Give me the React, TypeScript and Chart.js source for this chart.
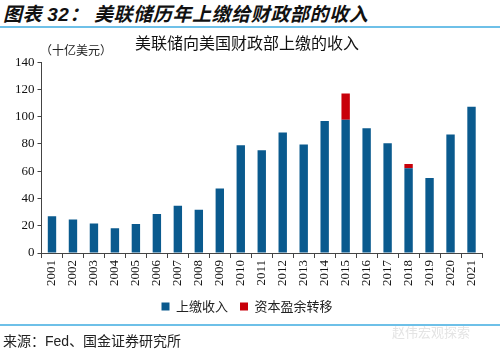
import React, { useEffect, useRef } from "react";
import { Chart, registerables } from "chart.js";

Chart.register(...registerables);

const years = ["2001","2002","2003","2004","2005","2006","2007","2008","2009","2010","2011","2012","2013","2014","2015","2016","2017","2018","2019","2020","2021"];
const remittances = [26.9, 24.5, 21.7, 18.2, 21.2, 28.7, 34.7, 31.7, 47.4, 79.1, 75.4, 88.4, 79.6, 96.9, 97.7, 91.5, 80.6, 62.1, 55.1, 86.9, 107.4];
const surplusTransfer = [null, null, null, null, null, null, null, null, null, null, null, null, null, null, 19.3, null, null, 3.2, null, null, null];
const seriesNames = ["上缴收入", "资本盈余转移"];
const yTicks = { min: 0, max: 140, step: 20 };

const serif = "'Liberation Serif', 'Times New Roman', serif";
const cjk = "'Noto Sans CJK SC', sans-serif";

export default function App() {
  const ref = useRef<HTMLCanvasElement>(null);
  useEffect(() => {
    document.body.style.margin = "0";
    const chart = new Chart(ref.current!, {
      type: "bar",
      data: {
        labels: years,
        datasets: [
          { label: seriesNames[0], data: remittances, backgroundColor: "#0A5A8E", barPercentage: 0.4, categoryPercentage: 1 },
          { label: seriesNames[1], data: surplusTransfer as any, backgroundColor: "#C8000A", barPercentage: 0.4, categoryPercentage: 1 },
        ],
      },
      options: {
        animation: false,
        responsive: false,
        maintainAspectRatio: false,
        layout: { padding: { left: 12, right: 18, top: 0, bottom: 2 } },
        plugins: {
          tooltip: { enabled: false },
          title: {
            display: true,
            text: "美联储向美国财政部上缴的收入",
            color: "#111",
            font: { family: cjk, size: 16, weight: "normal" },
            padding: { top: 2, bottom: 10 },
          },
          legend: {
            position: "bottom",
            labels: {
              boxWidth: 8,
              boxHeight: 8,
              color: "#222",
              font: { family: cjk, size: 13 },
              padding: 12,
            },
          },
        },
        scales: {
          x: {
            stacked: true,
            grid: { display: true, drawOnChartArea: false, drawTicks: true, tickLength: 5, color: "#444", offset: true },
            border: { display: true, color: "#444", width: 1 },
            ticks: { color: "#111", font: { family: serif, size: 13 }, minRotation: 90, maxRotation: 90, padding: 2, autoSkip: false },
          },
          y: {
            stacked: true,
            min: yTicks.min,
            max: yTicks.max,
            grid: { display: true, drawOnChartArea: false, drawTicks: true, tickLength: 4, color: "#444" },
            border: { display: true, color: "#444", width: 1 },
            ticks: { stepSize: yTicks.step, color: "#111", font: { family: serif, size: 13 }, padding: 3 },
          },
        },
      },
    });
    return () => chart.destroy();
  }, []);

  return (
    <div style={{ position: "fixed", left: 0, top: 0, width: 500, height: 352, background: "#fff", overflow: "hidden" }}>
      <div style={{ position: "absolute", left: 3, top: 1, fontFamily: cjk, fontSize: 19, fontWeight: "bold", fontStyle: "italic", color: "#111", whiteSpace: "nowrap", lineHeight: "24px", letterSpacing: "0.6px" }}>
        图表 <span style={{ fontFamily: "'Liberation Sans', Arial, sans-serif" }}>32</span>： 美联储历年上缴给财政部的收入
      </div>
      <div style={{ position: "absolute", left: 0, top: 26, width: 500, height: 2, background: "#6EC0E8" }} />
      <canvas ref={ref} width={500} height={294} style={{ position: "absolute", left: 0, top: 31, width: 500, height: 294 }} />
      <div style={{ position: "absolute", left: 40, top: 41, fontFamily: cjk, fontSize: 12, color: "#222", whiteSpace: "nowrap" }}>（十亿美元）</div>
      <div style={{ position: "absolute", left: 0, top: 324, width: 500, height: 2, background: "#6EC0E8" }} />
      <div style={{ position: "absolute", left: 3, top: 330, fontFamily: cjk, fontSize: 14, color: "#222", whiteSpace: "nowrap", lineHeight: "20px" }}>
        来源：<span style={{ fontFamily: "'Liberation Sans', Arial, sans-serif" }}>Fed</span>、国金证券研究所
      </div>
      <div style={{ position: "absolute", left: 392, top: 322, fontFamily: cjk, fontSize: 13, color: "#e4e4e4", whiteSpace: "nowrap" }}>赵伟宏观探索</div>
    </div>
  );
}
